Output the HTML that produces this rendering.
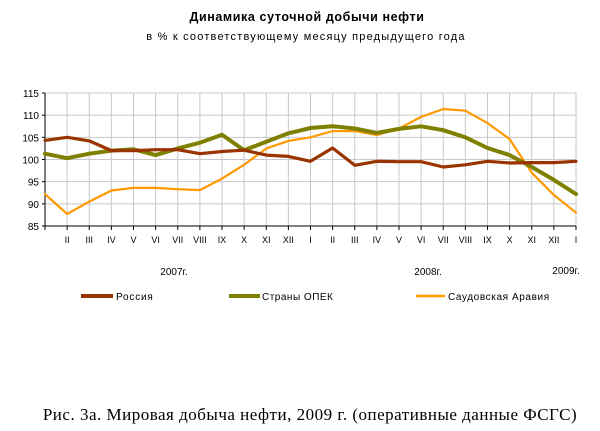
<!DOCTYPE html>
<html><head><meta charset="utf-8"><style>
body{margin:0;background:#fff;width:600px;height:431px;overflow:hidden}
svg{display:block}
</style></head><body>
<svg id="s" width="600" height="431" xmlns="http://www.w3.org/2000/svg" font-family="Liberation Sans, DejaVu Sans, sans-serif">
<text x="307" y="21" text-anchor="middle" font-size="12.5" font-weight="bold" letter-spacing="0.6" fill="#000">Динамика суточной добычи нефти</text>
<text x="306" y="40" text-anchor="middle" font-size="11" letter-spacing="1.2" fill="#000">в % к соответствующему месяцу предыдущего года</text>
<g id="grid"></g>
<g id="lines" fill="none" stroke-linejoin="round" stroke-linecap="round"></g>
<text x="174" y="275" text-anchor="middle" font-size="10">2007г.</text>
<text x="428" y="275" text-anchor="middle" font-size="10">2008г.</text>
<text x="566" y="274" text-anchor="middle" font-size="10">2009г.</text>
<line x1="81" y1="296" x2="113" y2="296" stroke="#993300" stroke-width="4"/>
<text x="116" y="300" font-size="10" letter-spacing="0.8">Россия</text>
<line x1="229" y1="296" x2="260" y2="296" stroke="#808000" stroke-width="4"/>
<text x="262" y="300" font-size="10" letter-spacing="0.5">Страны ОПЕК</text>
<line x1="416" y1="296" x2="445" y2="296" stroke="#ff9900" stroke-width="2.5"/>
<text x="448" y="300" font-size="10" letter-spacing="0.6">Саудовская Аравия</text>
<text x="310" y="420" text-anchor="middle" font-size="17" letter-spacing="0.5" font-family="Liberation Serif, serif">Рис. 3а. Мировая добыча нефти, 2009 г. (оперативные данные ФСГС)</text>
</svg>
<script>
var x0=45,x1=576,yt=93,yb=226;
function X(i){return x0+i*(x1-x0)/24}
function Y(v){return yb-(v-85)*(yb-yt)/30}
var g=document.getElementById('grid'),h='';
for(var v=85;v<=115;v+=5){h+='<line x1="'+x0+'" x2="'+x1+'" y1="'+Y(v)+'" y2="'+Y(v)+'" stroke="#c8c8c8"/>';
h+='<line x1="'+(x0-3)+'" x2="'+x0+'" y1="'+Y(v)+'" y2="'+Y(v)+'" stroke="#000"/>';
h+='<text x="'+(x0-6)+'" y="'+(Y(v)+4)+'" text-anchor="end" font-size="10">'+v+'</text>';}
var m=['','II','III','IV','V','VI','VII','VIII','IX','X','XI','XII','I','II','III','IV','V','VI','VII','VIII','IX','X','XI','XII','I'];
for(var i=0;i<25;i++){if(i>0)h+='<line x1="'+X(i)+'" x2="'+X(i)+'" y1="'+yt+'" y2="'+yb+'" stroke="#c8c8c8"/>';
h+='<line x1="'+X(i)+'" x2="'+X(i)+'" y1="'+yb+'" y2="'+(yb+4)+'" stroke="#000"/>';
h+='<text x="'+X(i)+'" y="'+(yb+17)+'" text-anchor="middle" font-size="9">'+m[i]+'</text>';}
h+='<line x1="'+x0+'" x2="'+x0+'" y1="'+yt+'" y2="'+yb+'" stroke="#000"/>';
h+='<line x1="'+x0+'" x2="'+x1+'" y1="'+yb+'" y2="'+yb+'" stroke="#000"/>';
g.innerHTML=h;
var S=[
["#ff9900",2.2,[92.2,87.7,90.5,93,93.6,93.6,93.3,93.1,95.7,98.8,102.5,104.2,105,106.4,106.4,105.5,107,109.6,111.4,111,108.2,104.6,97,92,88]],
["#808000",4,[101.3,100.3,101.3,102,102.3,101,102.5,103.8,105.6,102.1,104,105.9,107.1,107.5,107,106,106.9,107.5,106.6,105,102.6,101,98.3,95.4,92.2]],
["#993300",3.2,[104.3,105,104.2,102,102,102.2,102.2,101.3,101.8,102.1,101,100.7,99.6,102.6,98.7,99.6,99.5,99.5,98.3,98.8,99.6,99.2,99.3,99.3,99.6]]];
var L='';
S.forEach(function(s){var p=s[2].map(function(v,i){return X(i).toFixed(1)+','+Y(v).toFixed(1)}).join(' ');
L+='<polyline points="'+p+'" stroke="'+s[0]+'" stroke-width="'+s[1]+'"/>';});
document.getElementById('lines').innerHTML=L;
</script>
</body></html>
